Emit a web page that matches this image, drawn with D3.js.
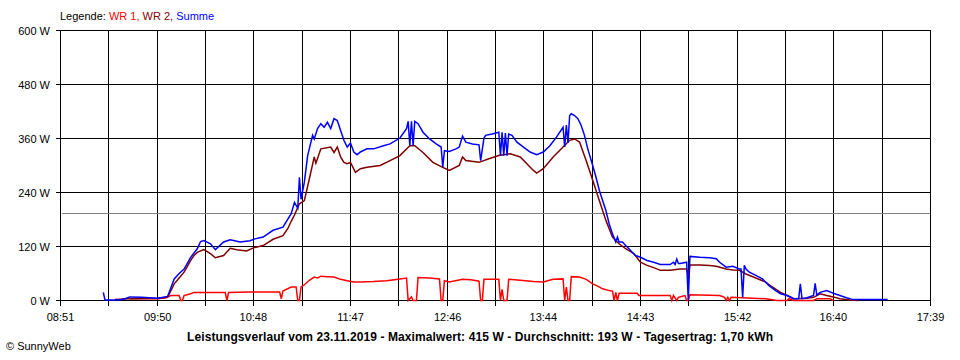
<!DOCTYPE html>
<html>
<head>
<meta charset="utf-8">
<script src="https://cdn.jsdelivr.net/npm/d3@7"></script>
<style>
  html, body { margin: 0; padding: 0; background: #fff; }
  svg { display: block; }
  text { font-family: "Liberation Sans", Arial, sans-serif; font-size: 11px; fill: #000; }
</style>
</head>
<body>
<svg id="chart" width="960" height="360"></svg>
<script>
// ---------------- DATA ----------------
const xTickLabels = ["08:51","09:50","10:48","11:47","12:46","13:44","14:43","15:42","16:40","17:39"];
const yTickValues = [0, 120, 240, 360, 480, 600];
const yTickLabels = ["0 W","120 W","240 W","360 W","480 W","600 W"];
const averageW = 193;
const legendParts = ["Legende: ", "WR 1, ", "WR 2, ", "Summe"];
const titleText = "Leistungsverlauf vom 23.11.2019 - Maximalwert: 415 W - Durchschnitt: 193 W - Tagesertrag: 1,70 kWh";
const creditText = "\u00A9 SunnyWeb";

const wr1Times = ["09:33","09:50","09:55","09:58","10:03","10:04","10:05","10:06","10:10","10:12","10:31","10:32","10:33","10:45","11:04","11:05","11:06","11:11","11:14","11:15","11:16","11:17","11:19","11:22","11:25","11:27","11:29","11:33","11:37","11:41","11:45","11:49","11:53","12:01","12:09","12:17","12:21","12:22","12:24","12:25","12:27","12:28","12:35","12:41","12:42","12:43","12:44","12:47","12:55","13:00","13:05","13:06","13:07","13:08","13:17","13:18","13:19","13:20","13:22","13:23","13:30","13:38","13:44","13:50","13:56","13:57","13:58","13:59","14:00","14:01","14:06","14:10","14:14","14:17","14:20","14:24","14:26","14:27","14:28","14:29","14:30","14:41","14:42","15:01","15:02","15:03","15:05","15:06","15:10","15:11","15:12","15:13","15:31","15:34","15:35","15:36","15:37","15:38","15:59","16:06","16:12","16:13","16:16","16:28","16:30","16:38","16:40"];
const wr1Values = [4,4,6,11,11,0,0,11,15,18,18,0,18,19,19,4,21,30,30,0,0,30,35,45,52,50,54,53,52,47,44,41,41,42,44,48,50,0,8,0,0,51,50,48,0,0,44,41,47,46,43,0,0,47,47,0,25,0,0,47,45,42,41,47,48,0,30,0,0,53,52,47,37,32,26,22,21,0,18,0,16,16,11,11,0,11,0,7,11,0,0,13,11,7,0,7,0,7,4,0,0,4,0,0,4,4,0];

const wr2Times = ["09:24","09:27","09:33","09:50","09:56","10:00","10:03","10:06","10:08","10:10","10:12","10:14","10:18","10:22","10:25","10:30","10:34","10:38","10:44","10:48","10:54","11:00","11:06","11:09","11:11","11:13","11:16","11:19","11:22","11:25","11:26","11:29","11:35","11:37","11:39","11:41","11:43","11:45","11:47","11:50","11:53","11:57","12:05","12:11","12:17","12:23","12:26","12:31","12:37","12:43","12:47","12:53","12:55","12:57","13:05","13:11","13:17","13:24","13:30","13:38","13:40","13:44","13:50","13:56","14:00","14:03","14:06","14:10","14:14","14:18","14:22","14:26","14:30","14:34","14:39","14:43","14:47","14:51","14:55","15:01","15:07","15:11","15:12","15:13","15:19","15:25","15:29","15:35","15:39","15:43","15:47","15:53","15:59","16:03","16:08","16:12","16:16","16:24","16:28","16:32","16:36","16:40","16:44","16:50","16:55"];
const wr2Values = [2,3,4,5,7,37,50,63,76,89,100,107,113,104,95,100,116,113,110,117,122,136,144,160,176,190,215,222,270,319,305,337,341,329,341,319,307,304,307,285,293,296,300,311,322,344,344,329,307,296,289,300,319,311,307,315,322,326,319,289,283,293,319,341,356,359,352,311,267,222,178,141,126,115,104,85,78,73,67,67,70,70,55,79,79,78,76,70,68,67,59,50,41,30,18,11,4,5,7,15,11,8,4,1,0];

const sumTimes = ["09:17","09:18","09:27","09:31","09:33","09:40","09:45","09:50","09:56","10:00","10:03","10:06","10:10","10:14","10:16","10:18","10:22","10:25","10:30","10:34","10:40","10:46","10:49","10:54","11:00","11:06","11:11","11:13","11:15","11:16","11:17","11:19","11:21","11:24","11:25","11:27","11:29","11:31","11:33","11:35","11:37","11:39","11:41","11:43","11:45","11:47","11:49","11:51","11:53","11:57","12:01","12:07","12:11","12:17","12:21","12:22","12:23","12:24","12:25","12:26","12:28","12:31","12:35","12:39","12:42","12:43","12:44","12:47","12:51","12:53","12:55","12:57","13:01","13:05","13:06","13:08","13:09","13:13","13:17","13:18","13:19","13:20","13:21","13:22","13:23","13:25","13:28","13:32","13:36","13:40","13:44","13:48","13:52","13:56","13:57","13:58","13:59","14:00","14:01","14:03","14:05","14:07","14:09","14:11","14:14","14:16","14:18","14:20","14:22","14:24","14:26","14:28","14:29","14:30","14:32","14:34","14:36","14:38","14:40","14:43","14:47","14:51","14:55","15:01","15:03","15:04","15:05","15:06","15:07","15:11","15:12","15:13","15:19","15:25","15:29","15:31","15:35","15:39","15:43","15:44","15:45","15:46","15:47","15:49","15:53","15:57","16:01","16:05","16:08","16:12","16:16","16:19","16:20","16:21","16:24","16:28","16:29","16:30","16:32","16:36","16:40","16:44","16:48","16:52","17:13"];
const sumValues = [18,1,1,5,8,7,6,5,9,48,60,70,96,115,131,133,126,113,130,135,130,133,137,141,156,163,193,218,205,274,225,263,322,367,359,382,393,385,396,382,404,400,378,356,341,350,330,324,330,337,337,344,348,361,382,398,344,398,344,398,393,374,359,348,341,296,333,331,337,341,365,352,348,346,311,361,367,370,374,322,374,322,372,322,370,367,352,341,330,324,330,344,363,385,341,390,350,411,415,411,404,389,367,337,300,274,245,222,200,170,148,130,141,130,130,122,115,107,100,96,89,85,80,80,85,80,92,82,82,85,0,98,96,95,93,85,74,76,70,70,7,78,70,63,56,48,33,22,15,11,4,4,37,4,6,11,38,12,18,22,16,11,6,2,2];

// ---------------- CHART ----------------
const toMin = s => { const [h, m] = s.split(":").map(Number); return h * 60 + m; };
const svg = d3.select("#chart");

const xStart = toMin(xTickLabels[0]);
const xEnd = toMin(xTickLabels[xTickLabels.length - 1]);
const x = d3.scaleLinear().domain([xStart, xEnd]).range([60.5, 930.5]);
const y = d3.scaleLinear().domain([0, 600]).range([300.5, 30.5]);

// vertical grid ticks (half steps between labelled ticks)
const nDiv = (xTickLabels.length - 1) * 2;
const vTicks = d3.range(nDiv + 1).map(i => xStart + i * (xEnd - xStart) / nDiv);

const grid = svg.append("g").attr("shape-rendering", "crispEdges");
grid.selectAll("line.v").data(vTicks).join("line")
  .attr("x1", d => Math.round(x(d) - 0.5) + 0.5).attr("x2", d => Math.round(x(d) - 0.5) + 0.5)
  .attr("y1", y(600)).attr("y2", y(0) + 5)
  .attr("stroke", "#000").attr("stroke-width", 1);
grid.selectAll("line.h").data(yTickValues).join("line")
  .attr("x1", x.range()[0] - 5).attr("x2", x.range()[1])
  .attr("y1", d => y(d)).attr("y2", d => y(d))
  .attr("stroke", "#000").attr("stroke-width", 1);
// average line
grid.append("line")
  .attr("x1", x.range()[0] + 1).attr("x2", x.range()[1] - 1)
  .attr("y1", Math.round(y(averageW) - 0.5) + 0.5).attr("y2", Math.round(y(averageW) - 0.5) + 0.5)
  .attr("stroke", "#808080").attr("stroke-width", 1);

// y labels
svg.append("g").selectAll("text").data(yTickValues).join("text")
  .attr("x", 50).attr("y", d => y(d) + 4)
  .attr("text-anchor", "end")
  .text((d, i) => yTickLabels[i]);

// x labels
svg.append("g").selectAll("text").data(xTickLabels).join("text")
  .attr("x", d => x(toMin(d))).attr("y", 321)
  .attr("text-anchor", "middle")
  .text(d => d);

// series
const series = [
  { times: wr1Times, values: wr1Values, color: "#ff0000" },
  { times: wr2Times, values: wr2Values, color: "#800000" },
  { times: sumTimes, values: sumValues, color: "#0000ff" }
];
const line = d3.line().x(d => x(d[0])).y(d => y(d[1])).curve(d3.curveLinear);
const plot = svg.append("g");
series.forEach(s => {
  const pts = s.times.map((t, i) => [toMin(t), s.values[i]]);
  plot.append("path").datum(pts)
    .attr("d", line)
    .attr("fill", "none")
    .attr("stroke", s.color)
    .attr("stroke-width", 1.5)
    .attr("stroke-linejoin", "miter");
});

// legend
const legendColors = ["#000000", "#ff0000", "#800000", "#0000ff"];
const lg = svg.append("text").attr("x", 60).attr("y", 20).attr("xml:space", "preserve");
legendParts.forEach((p, i) => lg.append("tspan").attr("fill", legendColors[i]).style("fill", legendColors[i]).text(p));

// title
svg.append("text").attr("x", 480).attr("y", 341).attr("text-anchor", "middle")
  .attr("textLength", 586).attr("lengthAdjust", "spacing")
  .style("font-weight", "bold").style("font-size", "12px")
  .text(titleText);

// credit
svg.append("text").attr("x", 6).attr("y", 350).text(creditText);
</script>
</body>
</html>
